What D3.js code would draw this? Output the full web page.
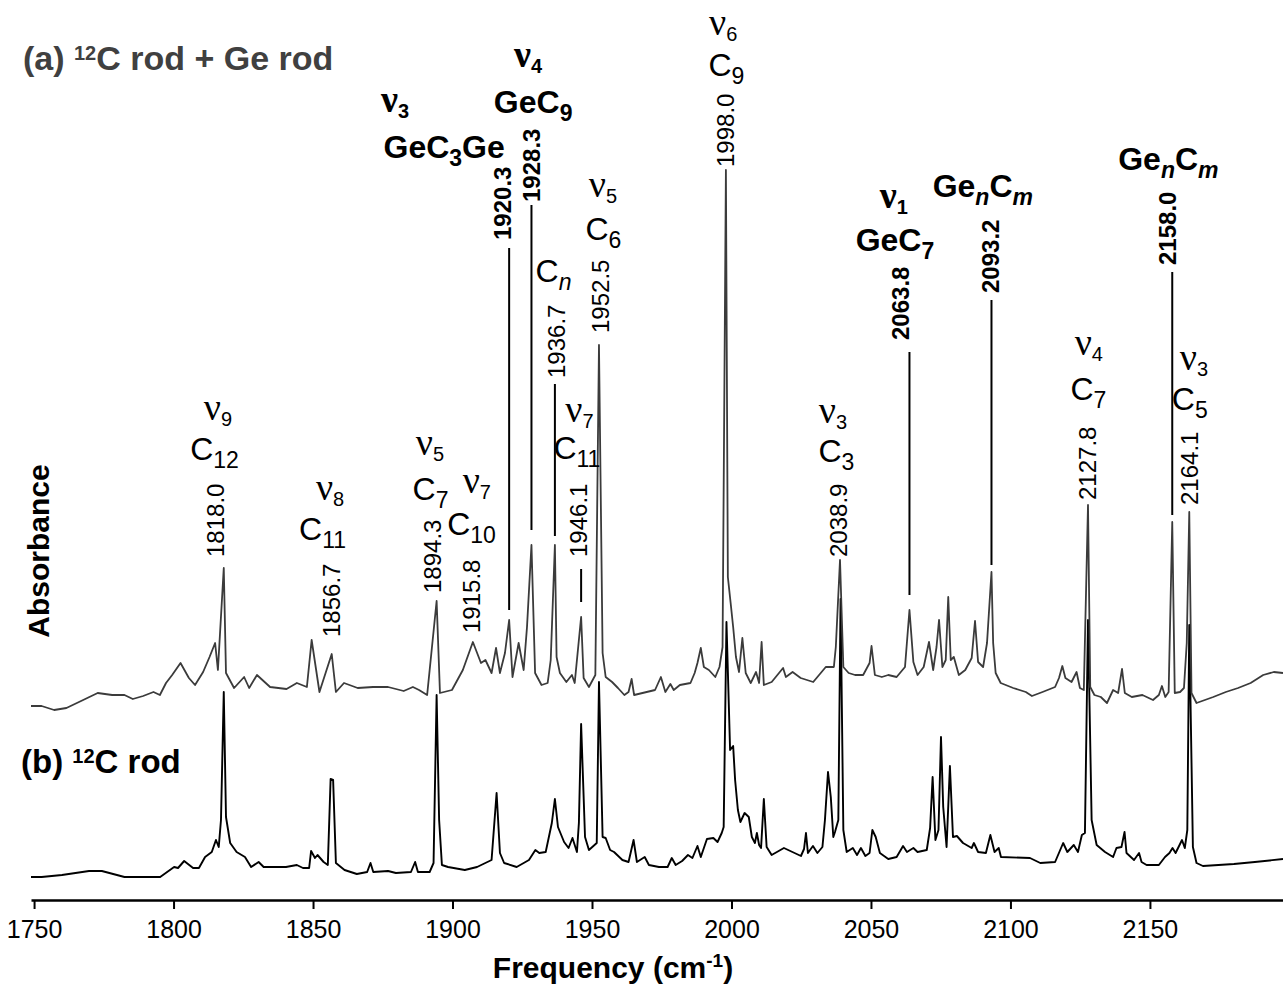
<!DOCTYPE html>
<html>
<head>
<meta charset="utf-8">
<script src="https://cdn.jsdelivr.net/npm/d3@7"></script>
<style>
  body { margin: 0; background: #fff; }
  svg { display: block; }
  text { font-family: "Liberation Sans", Arial, Helvetica, sans-serif; }
</style>
</head>
<body>
<svg id="chart" width="1283" height="990"></svg>
<script>
// Spectrum (a): 12C rod + Ge rod — [wavenumber (cm-1), absorbance (arb.)]
const spectrumA = [
  [1748.9,1.74],[1752.7,1.74],[1757.2,1.70],[1761.6,1.72],[1767.6,1.80],[1772.8,1.87],[1778.0,1.85],[1782.4,1.85],
  [1785.4,1.81],[1789.1,1.84],[1792.8,1.88],[1795.1,1.85],[1797.3,1.97],[1799.5,2.05],[1802.5,2.17],[1805.5,2.02],
  [1807.7,1.95],[1810.6,2.08],
  [1812.9,2.23],[1814.9,2.37],[1815.9,2.10],[1818.0,3.12],[1818.8,2.07],[1821.7,1.92],[1825.3,2.03],[1827.1,1.92],
  [1829.9,2.05],[1834.6,1.93],[1840.5,1.91],[1844.2,1.97],[1847.8,1.93],[1849.5,2.40],[1852.3,1.88],[1856.7,2.26],[1858.2,1.88],[1861.1,1.97],
  [1866.0,1.92],[1871.5,1.93],[1876.9,1.93],[1882.5,1.89],[1885.8,1.93],[1888.0,1.90],[1890.9,1.85],[1894.3,2.79],[1895.5,1.87],[1899.8,1.90],[1903.7,2.10],
  [1907.3,2.38],[1910.2,2.17],[1911.8,2.20],[1914.0,2.07],[1915.6,2.32],[1917.0,2.07],[1918.8,2.27],[1920.3,2.60],
  [1921.5,2.03],[1923.7,2.37],[1925.5,2.10],[1926.7,2.53],[1928.3,3.35],[1929.6,2.07],[1931.9,1.95],[1934.1,1.97],
  [1935.2,2.20],[1936.7,3.35],[1937.3,2.23],[1938.5,2.07],[1940.8,1.98],[1942.8,2.05],[1943.8,1.97],[1946.1,2.63],
  [1947.0,2.02],[1948.9,1.93],[1951.2,2.05],[1952.5,5.35],[1953.8,2.27],[1954.9,2.03],[1957.2,1.98],[1959.3,1.92],
  [1961.6,1.85],[1963.1,1.88],[1964.2,2.01],[1965.1,1.85],[1969.6,1.88],[1972.6,1.90],[1974.7,2.03],[1976.3,1.88],
  [1978.1,1.96],[1979.3,1.90],[1981.5,1.95],[1985.3,1.97],[1986.8,2.07],[1987.8,2.17],[1989.0,2.32],[1990.1,2.13],
  [1991.9,2.10],[1994.2,2.03],[1995.7,2.13],[1996.8,2.33],[1998.0,7.10],[1998.7,3.03],[1999.7,2.77],[2000.6,2.53],
  [2001.6,2.23],[2002.7,2.08],[2003.9,2.42],[2005.1,2.07],[2006.9,1.97],[2008.8,2.08],[2009.9,1.97],[2010.8,2.38],
  [2011.6,1.95],[2014.4,1.98],[2018.5,2.12],[2019.5,2.03],[2021.9,2.08],[2024.8,2.02],[2029.3,1.98],[2033.8,2.13],
  [2036.7,2.13],[2037.4,2.33],[2038.9,3.20],[2040.1,2.13],[2042.0,2.07],[2044.3,2.05],[2047.2,2.05],[2049.5,2.17],
  [2050.2,2.34],[2051.4,2.05],[2053.9,2.03],[2056.2,2.05],[2059.2,2.03],[2062.2,2.13],[2063.8,2.70],[2065.2,2.18],
  [2066.7,2.05],[2068.9,2.13],[2070.8,2.38],[2072.3,2.10],[2073.5,2.33],[2074.4,2.60],[2075.6,2.13],[2076.8,2.20],
  [2077.7,2.83],[2078.6,2.20],[2079.7,2.23],[2081.5,2.05],[2083.8,2.10],[2086.1,2.22],[2087.3,2.59],[2088.4,2.18],
  [2090.2,2.13],[2091.6,2.37],[2093.2,3.08],[2093.8,2.37],[2094.7,2.07],[2096.5,1.97],[2101.0,1.92],[2105.5,1.88],
  [2107.7,1.84],[2111.5,1.88],[2116.0,1.93],[2117.4,2.02],[2118.6,2.14],[2119.7,2.02],[2121.9,1.98],[2123.7,2.08],
  [2124.9,1.92],[2126.3,1.90],[2127.8,3.75],[2128.6,1.93],[2130.1,1.85],[2132.4,1.83],[2134.6,1.77],[2136.8,1.90],
  [2138.6,1.87],[2140.0,2.11],[2141.0,1.87],[2143.5,1.83],[2147.3,1.85],[2151.1,1.80],[2153.2,1.85],[2154.3,1.94],
  [2155.5,1.83],[2156.7,1.88],[2158.0,3.58],[2158.9,1.87],[2160.8,1.88],[2162.2,1.92],[2163.2,2.37],[2164.1,3.68],
  [2164.9,1.87],[2166.7,1.77],[2172.7,1.83],[2177.2,1.88],[2181.6,1.92],[2186.1,1.97],[2190.6,2.05],[2194.4,2.08],[2197.7,2.07]
];

// Spectrum (b): 12C rod only
const spectrumB = [
  [1748.9,0.03],[1752.7,0.03],[1760.0,0.05],[1769.7,0.09],[1774.3,0.09],[1782.4,0.03],[1795.2,0.03],[1800.2,0.13],
  [1801.6,0.12],[1803.8,0.19],[1807.0,0.12],[1809.1,0.12],[1811.3,0.23],[1813.7,0.28],[1815.2,0.40],[1816.2,0.33],
  [1817.0,0.60],[1818.0,1.88],[1818.8,0.63],[1820.3,0.37],[1822.6,0.28],[1825.6,0.23],[1827.8,0.13],[1830.5,0.18],
  [1832.3,0.13],[1840.3,0.13],[1844.2,0.15],[1846.4,0.12],[1848.6,0.12],[1849.3,0.29],[1850.7,0.22],[1851.6,0.25],
  [1853.8,0.18],[1855.3,0.15],[1856.3,1.01],[1857.2,1.00],[1858.2,0.17],[1861.3,0.10],[1865.7,0.06],[1869.4,0.08],
  [1870.6,0.17],[1871.6,0.08],[1876.9,0.09],[1879.7,0.07],[1885.1,0.08],[1886.6,0.18],[1887.6,0.08],[1891.8,0.08],
  [1893.2,0.17],[1894.3,1.85],[1895.2,0.60],[1896.2,0.15],[1898.4,0.13],[1904.4,0.10],[1908.8,0.13],[1914.0,0.20],
  [1915.8,0.87],[1917.0,0.27],[1918.5,0.17],[1923.0,0.13],[1927.4,0.20],[1929.7,0.30],[1931.1,0.27],[1933.4,0.28],
  [1935.6,0.57],[1936.7,0.81],[1937.8,0.53],[1940.0,0.38],[1941.6,0.32],[1943.0,0.42],[1944.6,0.28],[1945.3,0.57],
  [1946.1,1.56],[1947.5,0.43],[1948.9,0.30],[1951.7,0.37],[1952.5,1.98],[1953.8,0.43],[1954.9,0.42],[1956.5,0.30],
  [1957.9,0.28],[1960.9,0.20],[1963.1,0.18],[1964.9,0.40],[1966.1,0.18],[1968.9,0.23],[1970.4,0.15],[1974.0,0.13],
  [1977.1,0.13],[1978.6,0.22],[1980.0,0.15],[1982.3,0.19],[1984.4,0.25],[1986.0,0.22],[1987.8,0.34],[1989.0,0.23],
  [1991.2,0.41],[1993.5,0.42],[1995.0,0.38],[1996.5,0.47],[1997.2,0.53],[1998.2,2.58],[1999.5,1.30],[2000.6,1.34],
  [2001.3,1.00],[2002.3,0.70],[2003.2,0.58],[2004.7,0.67],[2006.2,0.63],[2007.3,0.43],[2008.4,0.37],[2009.1,0.47],
  [2009.9,0.35],[2010.6,0.32],[2011.6,0.81],[2012.6,0.33],[2014.4,0.25],[2018.8,0.32],[2024.9,0.24],[2026.0,0.31],
  [2026.7,0.47],[2027.4,0.27],[2029.2,0.34],[2030.8,0.27],[2032.6,0.33],[2033.5,0.60],[2034.6,1.08],[2035.6,0.83],
  [2036.5,0.43],[2037.1,0.48],[2038.3,0.60],[2039.1,2.81],[2040.1,0.50],[2041.3,0.28],[2043.5,0.32],[2045.0,0.25],
  [2046.4,0.32],[2048.0,0.24],[2049.5,0.27],[2050.5,0.50],[2051.7,0.43],[2053.2,0.27],[2056.2,0.21],[2059.2,0.23],
  [2061.5,0.34],[2062.9,0.28],[2065.2,0.32],[2066.7,0.28],[2070.0,0.30],[2071.2,0.52],[2072.1,1.03],[2073.1,0.40],
  [2074.2,0.50],[2075.1,1.43],[2075.9,0.73],[2077.1,0.33],[2078.3,1.14],[2079.4,0.43],[2080.8,0.44],[2083.0,0.37],
  [2086.1,0.32],[2086.9,0.37],[2088.4,0.28],[2091.2,0.27],[2092.8,0.45],[2094.3,0.28],[2095.8,0.32],[2096.6,0.23],
  [2107.0,0.22],[2110.7,0.17],[2116.0,0.18],[2118.9,0.37],[2120.4,0.28],[2122.7,0.35],[2124.2,0.28],[2125.6,0.45],
  [2126.7,0.47],[2127.8,2.60],[2129.1,0.60],[2130.9,0.35],[2133.9,0.28],[2136.8,0.23],[2138.0,0.32],[2139.8,0.33],
  [2140.9,0.48],[2141.6,0.27],[2144.3,0.20],[2146.1,0.27],[2147.0,0.18],[2148.8,0.15],[2153.2,0.15],[2155.4,0.23],
  [2157.0,0.27],[2158.1,0.32],[2159.2,0.27],[2161.5,0.40],[2162.5,0.32],[2163.4,0.50],[2164.1,2.55],[2165.4,0.33],
  [2166.7,0.17],[2169.0,0.14],[2180.1,0.16],[2187.6,0.18],[2197.7,0.21]
];

const freqTicks = [1750, 1800, 1850, 1900, 1950, 2000, 2050, 2100, 2150];

// Band assignments: wavenumber, vibrational mode number, carrier molecule, germanium-bearing?
const bandFreqs = [1818.0, 1856.7, 1894.3, 1915.8, 1920.3, 1928.3, 1936.7, 1946.1,
                   1952.5, 1998.0, 2038.9, 2063.8, 2093.2, 2127.8, 2158.0, 2164.1];
const bandModes = ["9", "8", "5", "7", "3", "4", null, "7", "5", "6", "3", "1", null, "4", null, "3"];
const bandSpecies = [
  [["C"], ["12", "s"]],
  [["C"], ["11", "s"]],
  [["C"], ["7", "s"]],
  [["C"], ["10", "s"]],
  [["GeC"], ["3", "s"], ["Ge"]],
  [["GeC"], ["9", "s"]],
  [["C"], ["n", "si"]],
  [["C"], ["11", "s"]],
  [["C"], ["6", "s"]],
  [["C"], ["9", "s"]],
  [["C"], ["3", "s"]],
  [["GeC"], ["7", "s"]],
  [["Ge"], ["n", "si"], ["C"], ["m", "si"]],
  [["C"], ["7", "s"]],
  [["Ge"], ["n", "si"], ["C"], ["m", "si"]],
  [["C"], ["5", "s"]]
];
const bandGe = [false, false, false, false, true, true, false, false,
                false, false, false, true, true, false, true, false];

// Label placement (x in cm-1, y in absorbance units):
// mode line, species line, rotated wavenumber, optional leader [top, bottom]
const labelLayout = [
  { mx: 1815.9, my: 4.60, sx: 1814.7, sy: 4.20, nx: 1815.1, ny: 3.23, lead: null },
  { mx: 1856.1, my: 3.80, sx: 1853.4, sy: 3.40, nx: 1856.6, ny: 2.43, lead: null },
  { mx: 1891.9, my: 4.25, sx: 1892.1, sy: 3.80, nx: 1892.7, ny: 2.87, lead: null },
  { mx: 1908.7, my: 3.87, sx: 1906.8, sy: 3.45, nx: 1906.9, ny: 2.47, lead: null },
  { mx: 1879.4, my: 7.68, sx: 1897.0, sy: 7.22, nx: 1918.0, ny: 6.40, lead: [6.32, 2.70] },
  { mx: 1927.1, my: 8.13, sx: 1928.9, sy: 7.67, nx: 1928.1, ny: 6.78, lead: [6.75, 3.50] },
  { mx: null,   my: null, sx: 1936.2, sy: 5.98, nx: 1937.3, ny: 5.02, lead: [4.96, 3.44] },
  { mx: 1945.5, my: 4.58, sx: 1944.6, sy: 4.21, nx: 1945.0, ny: 3.23, lead: [3.11, 2.78] },
  { mx: 1953.9, my: 6.83, sx: 1954.1, sy: 6.40, nx: 1952.9, ny: 5.47, lead: null },
  { mx: 1997.0, my: 8.45, sx: 1998.2, sy: 8.04, nx: 1997.95, ny: 7.13, lead: null },
  { mx: 2036.4, my: 4.57, sx: 2037.6, sy: 4.18, nx: 2038.2, ny: 3.23, lead: null },
  { mx: 2058.2, my: 6.72, sx: 2058.6, sy: 6.29, nx: 2060.4, ny: 5.40, lead: [5.28, 2.85] },
  { mx: null,   my: null, sx: 2090.1, sy: 6.83, nx: 2092.9, ny: 5.87, lead: [5.80, 3.15] },
  { mx: 2128.1, my: 5.25, sx: 2127.95, sy: 4.80, nx: 2127.6, ny: 3.80, lead: null },
  { mx: null,   my: null, sx: 2156.6, sy: 7.10, nx: 2156.3, ny: 6.15, lead: [6.08, 3.65] },
  { mx: 2165.8, my: 5.10, sx: 2164.3, sy: 4.70, nx: 2164.3, ny: 3.75, lead: null }
];

const SANS = '"Liberation Sans", Arial, Helvetica, sans-serif';
const SERIF = '"Liberation Serif", "Times New Roman", serif';

const svg = d3.select("#chart");
const W = 1283, H = 990;

const x = d3.scaleLinear().domain([1748.9, 2197.7]).range([31, W]);
const y = d3.scaleLinear().domain([-0.2, 8.8]).range([900, 0]);

// Spectra
const line = d3.line().x(d => x(d[0])).y(d => y(d[1])).curve(d3.curveLinear);

svg.append("path").datum(spectrumB)
  .attr("d", line).attr("fill", "none")
  .attr("stroke", "#000").attr("stroke-width", 1.9).attr("stroke-linejoin", "round");

svg.append("path").datum(spectrumA)
  .attr("d", line).attr("fill", "none")
  .attr("stroke", "#3b3b3b").attr("stroke-width", 1.8).attr("stroke-linejoin", "round");

// Frequency axis
const axis = d3.axisBottom(x).tickValues(freqTicks).tickFormat(d3.format("d"))
  .tickSize(9).tickSizeOuter(0).tickPadding(11);
const gx = svg.append("g").attr("transform", `translate(0,${y.range()[0]})`).call(axis);
gx.select(".domain").attr("stroke", "#000").attr("stroke-width", 2.5);
gx.selectAll(".tick line").attr("stroke", "#000").attr("stroke-width", 2);
gx.selectAll(".tick text").attr("font-size", 25).attr("font-family", SANS).attr("fill", "#000");

// Rich text helper: segments of [string, kind] where kind is
// undefined (normal), "nu" (Greek nu), "s" (subscript), "si" (italic subscript), "sup"
function rich(textSel, segs, sz) {
  let shift = 0;
  segs.forEach(([str, kind]) => {
    const ts = textSel.append("tspan").text(str);
    let target = 0;
    if (kind === "nu") {
      ts.attr("font-family", SERIF).attr("font-size", sz.nu);
    } else if (kind === "s" || kind === "si") {
      target = sz.subShift;
      ts.attr("font-size", sz.sub);
      if (kind === "si") ts.attr("font-style", "italic");
    } else if (kind === "sup") {
      target = -sz.supShift;
      ts.attr("font-size", sz.sup);
    } else {
      ts.attr("font-size", sz.main);
    }
    if (target !== shift) ts.attr("dy", target - shift);
    shift = target;
  });
}

const modeSize = { main: 32, nu: 38, sub: 20, subShift: 6 };
const speciesSize = { main: 32, sub: 23, subShift: 8 };

const ann = svg.append("g").attr("class", "annotations");

bandFreqs.forEach((f, i) => {
  const L = labelLayout[i];
  const weight = bandGe[i] ? "bold" : "normal";
  const g = ann.append("g").attr("font-weight", weight).attr("fill", "#000");

  if (bandModes[i] !== null) {
    const t = g.append("text").attr("x", x(L.mx)).attr("y", y(L.my))
      .attr("text-anchor", "middle");
    rich(t, [["\u03BD", "nu"], [bandModes[i], "s"]], modeSize);
  }

  const ts = g.append("text").attr("x", x(L.sx)).attr("y", y(L.sy))
    .attr("text-anchor", "middle");
  rich(ts, bandSpecies[i], speciesSize);

  g.append("text")
    .attr("transform", `translate(${x(L.nx)},${y(L.ny)}) rotate(-90)`)
    .attr("dy", "0.36em")
    .attr("font-size", 24)
    .text(f.toFixed(1));

  if (L.lead) {
    g.append("line")
      .attr("x1", x(f)).attr("x2", x(f))
      .attr("y1", y(L.lead[0])).attr("y2", y(L.lead[1]))
      .attr("stroke", "#000").attr("stroke-width", 2);
  }
});

// Trace titles
const ta = svg.append("text").attr("x", 23).attr("y", 70)
  .attr("font-weight", "bold").attr("fill", "#404040");
rich(ta, [["(a) "], ["12", "sup"], ["C rod + Ge rod"]], { main: 34, sup: 20, supShift: 10 });

const tb = svg.append("text").attr("x", 21).attr("y", 773)
  .attr("font-weight", "bold").attr("fill", "#000");
rich(tb, [["(b) "], ["12", "sup"], ["C rod"]], { main: 33, sup: 20, supShift: 10 });

// Axis titles
const xt = svg.append("text").attr("x", 613).attr("y", 978)
  .attr("text-anchor", "middle").attr("font-weight", "bold").attr("fill", "#000");
rich(xt, [["Frequency (cm"], ["-1", "sup"], [")"]], { main: 30, sup: 19, supShift: 11 });

svg.append("text")
  .attr("transform", "translate(49,551) rotate(-90)")
  .attr("text-anchor", "middle")
  .attr("font-weight", "bold").attr("font-size", 30).attr("fill", "#000")
  .text("Absorbance");
</script>
</body>
</html>
